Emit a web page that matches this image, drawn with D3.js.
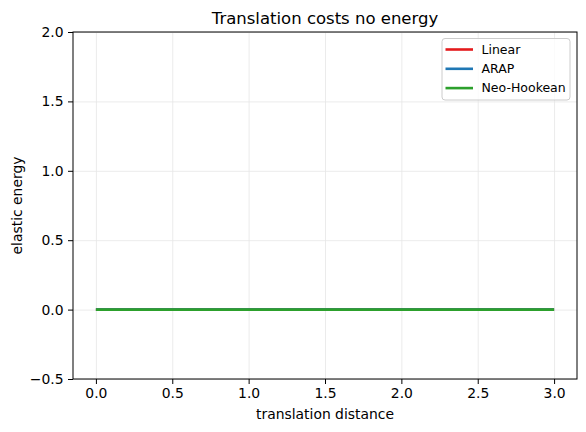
<!DOCTYPE html>
<html lang="en">
  <head>
    <meta charset="utf-8" />
    <title>Translation costs no energy</title>
    <script src="https://d3js.org/d3.v7.min.js"></script>
    <style>
      body { margin: 0; background: #fff; }
      text { font-family: "DejaVu Sans", sans-serif; fill: #000; }
      .grid line { stroke: #e6e6e6; stroke-width: 0.8; }
      .grid .domain { display: none; }
    </style>
  </head>
  <body>
    <svg width="586" height="432"></svg>
    <script>
      const distance = [0, 0.5, 1.0, 1.5, 2.0, 2.5, 3.0];
      const series = [
        { name: "Linear", colour: "#e41a1c", values: [0, 0, 0, 0, 0, 0, 0] },
        { name: "ARAP", colour: "#1f77b4", values: [0, 0, 0, 0, 0, 0, 0] },
        { name: "Neo-Hookean", colour: "#2ca02c", values: [0, 0, 0, 0, 0, 0, 0] },
      ];
      const xTicks = [0, 0.5, 1.0, 1.5, 2.0, 2.5, 3.0];
      const yTicks = [-0.5, 0, 0.5, 1.0, 1.5, 2.0];

      const margin = { top: 32, right: 9, bottom: 53, left: 73 };
      const width = 586;
      const height = 432;

      const svg = d3.select("svg");

      const x = d3.scaleLinear().domain([-0.15, 3.15]).range([margin.left, width - margin.right]);
      const y = d3.scaleLinear().domain([-0.5, 2.0]).range([height - margin.bottom, margin.top]);

      // grid
      svg.append("g")
        .attr("class", "grid")
        .attr("transform", `translate(0,${height - margin.bottom})`)
        .call(d3.axisBottom(x).tickValues(xTicks).tickSize(-(height - margin.top - margin.bottom)).tickFormat(""));
      svg.append("g")
        .attr("class", "grid")
        .attr("transform", `translate(${margin.left},0)`)
        .call(d3.axisLeft(y).tickValues(yTicks).tickSize(-(width - margin.left - margin.right)).tickFormat(""));

      // lines
      const line = d3.line().x((d, i) => x(distance[i])).y((d) => y(d));
      series.forEach((s) => {
        svg.append("path")
          .datum(s.values)
          .attr("d", line)
          .attr("fill", "none")
          .attr("stroke", s.colour)
          .attr("stroke-width", 2.6);
      });

      // axes
      const xAxis = svg.append("g")
        .attr("transform", `translate(0,${height - margin.bottom})`)
        .call(d3.axisBottom(x).tickValues(xTicks).tickSize(5).tickPadding(4.5).tickFormat(d3.format(".1f")));
      const yAxis = svg.append("g")
        .attr("transform", `translate(${margin.left},0)`)
        .call(d3.axisLeft(y).tickValues(yTicks).tickSize(5).tickPadding(4.5).tickFormat((d) => d3.format(".1f")(d).replace("-", "\u2212")));
      [xAxis, yAxis].forEach((a) => {
        a.selectAll("text").attr("font-size", "13.9px").attr("font-family", "DejaVu Sans, sans-serif");
        a.selectAll("line").attr("stroke", "#000").attr("stroke-width", 1);
        a.select(".domain").remove();
      });

      // frame
      svg.append("rect")
        .attr("x", margin.left)
        .attr("y", margin.top)
        .attr("width", width - margin.left - margin.right)
        .attr("height", height - margin.top - margin.bottom)
        .attr("fill", "none")
        .attr("stroke", "#000")
        .attr("stroke-width", 1);

      // title and labels
      svg.append("text")
        .attr("x", (margin.left + width - margin.right) / 2)
        .attr("y", 24)
        .attr("text-anchor", "middle")
        .attr("font-size", "16.5px")
        .text("Translation costs no energy");
      svg.append("text")
        .attr("x", (margin.left + width - margin.right) / 2)
        .attr("y", 418.5)
        .attr("text-anchor", "middle")
        .attr("font-size", "13.9px")
        .text("translation distance");
      svg.append("text")
        .attr("transform", `translate(21.5,${(margin.top + height - margin.bottom) / 2}) rotate(-90)`)
        .attr("text-anchor", "middle")
        .attr("font-size", "13.9px")
        .text("elastic energy");

      // legend
      const legend = svg.append("g").attr("transform", "translate(442,38.5)");
      legend.append("rect")
        .attr("width", 128)
        .attr("height", 61.5)
        .attr("rx", 3)
        .attr("fill", "#fff")
        .attr("fill-opacity", 0.8)
        .attr("stroke", "#ccc");
      series.forEach((s, i) => {
        const g = legend.append("g").attr("transform", `translate(0,${11 + i * 19.3})`);
        g.append("line")
          .attr("x1", 3.5).attr("x2", 31)
          .attr("stroke", s.colour)
          .attr("stroke-width", 2.6);
        g.append("text")
          .attr("x", 39.5)
          .attr("dy", "0.35em")
          .attr("font-size", "12.5px")
          .text(s.name);
      });
    </script>
  </body>
</html>
